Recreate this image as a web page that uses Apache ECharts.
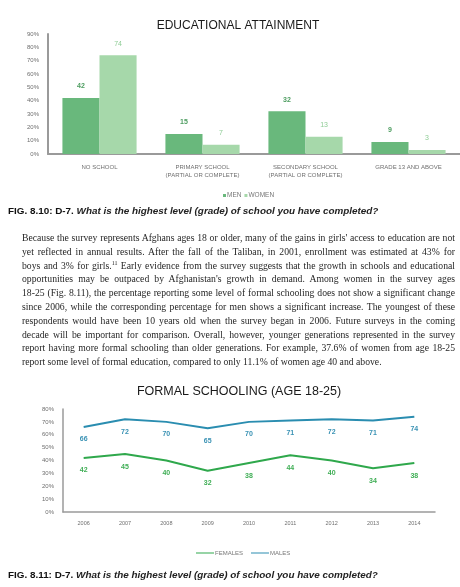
<!DOCTYPE html>
<html>
<head>
<meta charset="utf-8">
<script src="https://cdn.jsdelivr.net/npm/echarts@6/dist/echarts.min.js"></script>
<style>
  html, body { margin: 0; padding: 0; background: #fff; }
  #page { position: relative; width: 460px; height: 587px; overflow: hidden; }
  #chart { position: absolute; left: 0; top: 0; width: 460px; height: 587px; }
  .cap { position: absolute; left: 8px; font-family: "Liberation Sans", Arial, sans-serif;
         font-size: 9.9px; color: #111; white-space: nowrap; }
  .cap b { font-weight: bold; }
  .cap i { font-weight: bold; font-style: italic; color: #222; }
  #para { position: absolute; left: 22px; top: 231px; width: 433px;
          font-family: "Liberation Serif", "Times New Roman", serif; font-size: 9.7px;
          line-height: 13.8px; color: #262626; }
  #para div { text-align: justify; text-align-last: justify; }
  #para div.last { text-align-last: left; }
  sup { font-size: 6px; line-height: 0; vertical-align: 4px; }
</style>
</head>
<body>
<div id="page">
  <div id="chart"></div>
  <div class="cap" style="top:205px"><b>FIG. 8.10: D-7.</b> <i>What is the highest level (grade) of school you have completed?</i></div>
  <div id="para">
    <div>Because the survey represents Afghans ages 18 or older, many of the gains in girls' access to education are not</div>
    <div>yet reflected in annual results. After the fall of the Taliban, in 2001, enrollment was estimated at 43% for</div>
    <div>boys and 3% for girls.<sup>11</sup> Early evidence from the survey suggests that the growth in schools and educational</div>
    <div>opportunities may be outpaced by Afghanistan's growth in demand. Among women in the survey ages</div>
    <div>18-25 (Fig. 8.11), the percentage reporting some level of formal schooling does not show a significant change</div>
    <div>since 2006, while the corresponding percentage for men shows a significant increase. The youngest of these</div>
    <div>respondents would have been 10 years old when the survey began in 2006. Future surveys in the coming</div>
    <div>decade will be important for comparison. Overall, however, younger generations represented in the survey</div>
    <div>report having more formal schooling than older generations. For example, 37.6% of women from age 18-25</div>
    <div class="last">report some level of formal education, compared to only 11.1% of women age 40 and above.</div>
  </div>
  <div class="cap" style="top:569px"><b>FIG. 8.11: D-7.</b> <i>What is the highest level (grade) of school you have completed?</i></div>
</div>
<script>
var levels = ['NO SCHOOL', 'PRIMARY SCHOOL\n(PARTIAL OR COMPLETE)', 'SECONDARY SCHOOL\n(PARTIAL OR COMPLETE)', 'GRADE 13 AND ABOVE'];
var menValues = [42, 15, 32, 9];
var womenValues = [74, 7, 13, 3];

var years = ['2006', '2007', '2008', '2009', '2010', '2011', '2012', '2013', '2014'];
var femaleValues = [42, 45, 40, 32, 38, 44, 40, 34, 38];
var maleValues = [66, 72, 70, 65, 70, 71, 72, 71, 74];

var font = '"Liberation Sans", Arial, sans-serif';
var axisGray = '#9a9a9a';
var tickGray = '#6f6f6f';
var greenLine = '#2fa84c';
var blueLine = '#2a8db0';

var myChart = echarts.init(document.getElementById('chart'));
option = {
	animation: false,
	textStyle: { fontFamily: font },
	title: [{
		text: 'EDUCATIONAL ATTAINMENT',
		left: 233, top: 15, textAlign: 'center',
		textStyle: { fontSize: 12, fontWeight: 'normal', color: '#1a1a1a', fontFamily: font }
	}, {
		text: 'FORMAL SCHOOLING (AGE 18-25)',
		left: 234, top: 380, textAlign: 'center',
		textStyle: { fontSize: 12.5, fontWeight: 'normal', color: '#1a1a1a', fontFamily: font }
	}],
	legend: [{
		data: ['MEN', 'WOMEN'],
		left: 218, top: 187,
		icon: 'rect', itemWidth: 3, itemHeight: 3, itemGap: 3,
		textStyle: { fontSize: 6.5, color: '#777', padding: [0, 0, 0, -4] }
	}, {
		data: [
			{ name: 'FEMALES', itemStyle: { color: greenLine, opacity: 1 } },
			{ name: 'MALES', itemStyle: { color: blueLine, opacity: 1 } }
		],
		left: 191, top: 545,
		icon: 'rect', itemWidth: 18, itemHeight: 1, itemGap: 8,
		textStyle: { fontSize: 6, color: '#777', padding: [0, 0, 0, -4] }
	}],
	grid: [{
		left: 48, top: 34, width: 414, height: 120
	}, {
		left: 63, top: 409, width: 372, height: 103
	}],
	xAxis: [{
		type: 'category', gridIndex: 0, data: levels,
		axisLine: { lineStyle: { color: axisGray, width: 2 } },
		axisTick: { show: false },
		axisLabel: { fontSize: 6, color: tickGray, margin: 9, lineHeight: 8 }
	}, {
		type: 'category', gridIndex: 1, data: years,
		axisLine: { lineStyle: { color: axisGray, width: 1.5 } },
		axisTick: { show: false },
		axisLabel: { fontSize: 5.5, color: tickGray, margin: 8 }
	}],
	yAxis: [{
		type: 'value', gridIndex: 0, min: 0, max: 90, interval: 10,
		axisLine: { show: true, lineStyle: { color: axisGray, width: 2 } },
		axisTick: { show: false },
		splitLine: { show: false },
		axisLabel: { fontSize: 6, color: tickGray, margin: 9, formatter: '{value}%' }
	}, {
		type: 'value', gridIndex: 1, min: 0, max: 80, interval: 10,
		axisLine: { show: true, lineStyle: { color: axisGray, width: 1.5 } },
		axisTick: { show: false },
		splitLine: { show: false },
		axisLabel: { fontSize: 6, color: tickGray, margin: 9, formatter: '{value}%' }
	}],
	series: [{
		name: 'MEN', type: 'bar', xAxisIndex: 0, yAxisIndex: 0,
		data: menValues, barGap: '0%', barCategoryGap: '28%',
		itemStyle: { color: '#69b87c' },
		label: { show: true, position: 'top', distance: 8, fontSize: 7, fontWeight: 'bold', color: '#4d9d60' }
	}, {
		name: 'WOMEN', type: 'bar', xAxisIndex: 0, yAxisIndex: 0,
		data: womenValues, barGap: '0%', barCategoryGap: '28%',
		itemStyle: { color: '#a6d8aa' },
		label: { show: true, position: 'top', distance: 8, fontSize: 7, color: '#8fcd96' }
	}, {
		name: 'FEMALES', type: 'line', xAxisIndex: 1, yAxisIndex: 1,
		data: femaleValues,
		symbol: 'circle', symbolSize: 0,
		itemStyle: { color: greenLine },
		lineStyle: { color: greenLine, width: 2 },
		label: { show: true, position: 'bottom', distance: 9, fontSize: 7, fontWeight: 'bold', color: '#3fae55' }
	}, {
		name: 'MALES', type: 'line', xAxisIndex: 1, yAxisIndex: 1,
		data: maleValues,
		symbol: 'circle', symbolSize: 0,
		itemStyle: { color: blueLine },
		lineStyle: { color: blueLine, width: 2 },
		label: { show: true, position: 'bottom', distance: 9, fontSize: 7, fontWeight: 'bold', color: '#3a92b4' }
	}]
};
myChart.setOption(option);
window.addEventListener("resize", function() {
	myChart.resize();
});
</script>
</body>
</html>
